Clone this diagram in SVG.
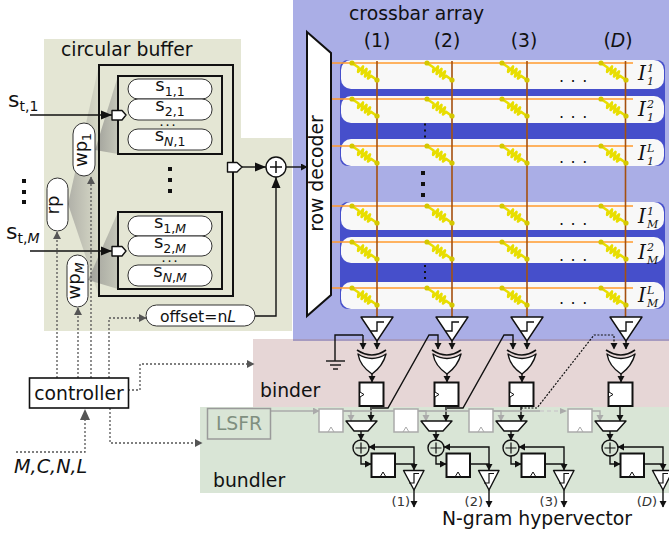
<svg xmlns="http://www.w3.org/2000/svg" xmlns:xlink="http://www.w3.org/1999/xlink" width="669" height="533" viewBox="0 0 669 533">
<style>
text{font-family:"DejaVu Sans",sans-serif;fill:#111}
.lbl{font-size:18.800px}
.s{font-size:18px;text-anchor:middle}
.sub{font-size:12.500px}
.it{font-style:italic}
.wire{fill:none;stroke:#111;stroke-width:1.4}
.arr{marker-end:url(#ah)}
.ctl{fill:none;stroke:#555;stroke-width:1.3;stroke-dasharray:2 2;marker-end:url(#ahg)}
.gw{fill:none;stroke:#aaa;stroke-width:1.3}
.box{fill:none;stroke:#111;stroke-width:2}
.pill{fill:#fff;stroke:#333;stroke-width:1}
.reg{fill:#fff;stroke:#111;stroke-width:2}
.greg{fill:#fff;stroke:#aaa;stroke-width:1.5}
.gate{fill:#fff;stroke:#111;stroke-width:1.4;stroke-linejoin:round}
.or{stroke:#ff9a2e;stroke-width:1.6}
.br{stroke:#a5500f;stroke-width:1.6}
.row{fill:#f8f8f8}
.dots{font-size:16px;letter-spacing:6.500px}
.tiny{font-size:8px;font-weight:bold;letter-spacing:3px}
.cap{font-family:"DejaVu Serif",serif;font-style:italic;font-size:20px}
.cs{font-family:"DejaVu Serif",serif;font-style:italic;font-size:11px}
.hdr{font-size:18.800px;text-anchor:middle}
.out{font-size:13px;text-anchor:end;fill:#333}
</style>
<defs>
<marker id="ah" markerUnits="userSpaceOnUse" markerWidth="8" markerHeight="8" refX="6" refY="3.500" orient="auto"><path d="M0 0L6.500 3.500L0 7Z" fill="#111"/></marker>
<marker id="ahL" markerUnits="userSpaceOnUse" markerWidth="12" markerHeight="10" refX="11" refY="5" orient="auto"><path d="M0 0.500L11 5L0 9.500Z" fill="#111"/></marker>
<marker id="ahg" markerUnits="userSpaceOnUse" markerWidth="9" markerHeight="9" refX="7" refY="4" orient="auto"><path d="M0 0L7.500 4L0 8Z" fill="#555"/></marker>
<marker id="ahG" markerUnits="userSpaceOnUse" markerWidth="12" markerHeight="10" refX="11" refY="5" orient="auto"><path d="M0 0L11 5L0 10Z" fill="#555"/></marker>
<marker id="ahl" markerUnits="userSpaceOnUse" markerWidth="8" markerHeight="8" refX="6" refY="3.500" orient="auto"><path d="M0 0L6.500 3.500L0 7Z" fill="#aaa"/></marker>
<linearGradient id="fan" x1="0" x2="1" y1="0" y2="0"><stop offset="0" stop-color="#a0a09a"/><stop offset="1" stop-color="#c4c6b8"/></linearGradient>
<linearGradient id="fan2" x1="0" x2="1" y1="0" y2="0"><stop offset="0" stop-color="#b0b0a8"/><stop offset="1" stop-color="#d8dac8"/></linearGradient>
<g id="res"><path d="M0 0L6.600 4.500L6.100 8.900L11 3.500L9.600 11L14.500 6L13 13.500L18 8.500L16 15.500L19.100 12.900L25 17" fill="none" stroke="#e8de00" stroke-width="2.600" stroke-linejoin="round"/><circle r="2.600" fill="#d4c800"/><circle cx="25" cy="17" r="2.600" fill="#d4c800"/></g>
<g id="cells"><use href="#res" x="352"/><use href="#res" x="427"/><use href="#res" x="502"/><use href="#res" x="601"/></g>
<g id="comp"><path class="gate" d="M361 317H393L377 341Z"/><path d="M370 331H377V322H384" fill="none" stroke="#111" stroke-width="1.400"/></g>
<g id="xor"><path class="gate" d="M358 354Q372 363 386 354Q383 366 372 374Q360 366 358 354Z"/><path d="M357 350Q372 360 386 350" fill="none" stroke="#111" stroke-width="1.600"/></g>
<g id="ff1"><rect class="reg" x="359.500" y="382.500" width="24" height="23.500"/><path d="M360 392L364 394.500L360 397" fill="#fff" stroke="#111" stroke-width="1"/></g>
<g id="mux"><path class="gate" d="M346 421H377L368 431H354Z"/></g>
<g id="add"><circle cx="361" cy="448" r="8" fill="none" stroke="#111" stroke-width="1.400"/><path d="M355.500 448H366.500M361 442.500V453.500" stroke="#111" stroke-width="1.200"/></g>
<g id="ff2"><rect class="reg" x="371.500" y="453.500" width="23.500" height="23.500"/><path d="M380 477L383 472L386 477" fill="none" stroke="#111" stroke-width="1"/></g>
<g id="mini"><path class="gate" d="M403.500 470.500H424L414 490Z"/><path d="M409 483H414V473.500H419" fill="none" stroke="#111" stroke-width="1.200"/></g>
<g id="gff"><rect class="greg" x="319" y="409" width="24" height="23"/><path d="M328 432L331 427L334 432" fill="none" stroke="#aaa" stroke-width="1"/></g>
<g id="colwires">
<path class="wire arr" d="M377 341V349"/>
<path class="wire arr" d="M372 374V382"/>
<path class="wire arr" d="M371 406V421"/>
<path class="wire arr" d="M361 431V440"/>
<path class="wire arr" d="M361 456V464H371"/>
<path class="wire arr" d="M395 464H414V470"/>
<path class="wire arr" d="M414 464V447H369"/>
<path class="wire arr" d="M414 490V507"/>
<path class="gw" style="marker-end:url(#ahl)" d="M343 411H351V421"/>
</g>
</defs>

<g id="backgrounds">
<path d="M44 39H241V138H292V331H44Z" fill="#e4e6d4"/>
<rect x="293" y="0" width="376" height="340" fill="#aaaee6"/>
<rect x="253" y="339" width="416" height="68" fill="#e6d6d6"/>
<path d="M293 339H669V341H293Z" fill="#a69ac0"/>
<rect x="200" y="407" width="469" height="86" fill="#d9e5d6"/>
<rect x="340" y="60" width="325" height="106" rx="8" fill="#464fcb"/>
<rect x="340" y="202" width="325" height="107" rx="8" fill="#464fcb"/>
<path d="M68 204L99 65V296Z" fill="url(#fan2)"/>
<path d="M95 150L118 76V154Z" fill="url(#fan)"/>
<path d="M88 280L118 212V289Z" fill="url(#fan)"/>
</g>

<g id="row-1-1"><rect class="row" x="341" y="60" width="323" height="29" rx="10"/></g>
<g id="row-2-1"><rect class="row" x="341" y="96" width="323" height="27" rx="10"/></g>
<g id="row-L-1"><rect class="row" x="341" y="139" width="323" height="27" rx="10"/></g>
<g id="row-1-M"><rect class="row" x="341" y="202" width="323" height="28" rx="10"/></g>
<g id="row-2-M"><rect class="row" x="341" y="237" width="323" height="26" rx="10"/></g>
<g id="row-L-M"><rect class="row" x="341" y="282" width="323" height="27" rx="10"/></g>

<g id="connectors">
<path class="or" d="M332 63H633M332 99H633M332 146H633M332 206H633M332 242H633M332 288H633"/>
<path class="br" d="M377 61V317M452 61V317M527 61V317M625.500 61V317"/>
<path class="wire" style="marker-end:url(#ahL)" d="M30 115H112"/>
<path class="wire" style="marker-end:url(#ahL)" d="M30 251H112"/>
<path class="wire" style="marker-end:url(#ahL)" d="M242 167H266"/>
<path class="wire" style="marker-end:url(#ahL)" d="M255 316H276V177"/>
<path class="wire arr" d="M286 167H307"/>
<path class="ctl" d="M57 378V232"/>
<path class="ctl" d="M78 378V308"/>
<path class="ctl" d="M91 378V177"/>
<path class="ctl" d="M109 378V318H146"/>
<path class="ctl" d="M128 390H140V364H254"/>
<path class="ctl" d="M110 408V443H202"/>
<path style="fill:none;stroke:#555;stroke-width:1.300;stroke-dasharray:2 2;marker-end:url(#ahG)" d="M16 452H85V409"/>
<path class="wire arr" d="M363 335V349" />
<path class="wire" d="M363 335H335V361"/>
<path d="M326 361H345M330 365H341M333 369H338" stroke="#222" stroke-width="1.300"/>
<use href="#colwires"/>
<use href="#colwires" x="75"/>
<use href="#colwires" x="150"/>
<use href="#colwires" x="249"/>
<path class="wire arr" d="M372 408H388L429 335H438V349"/>
<path class="wire arr" d="M447 408H463L504 335H513V349"/>
<path style="fill:none;stroke:#111;stroke-width:1.200;stroke-dasharray:2 1.500;marker-end:url(#ah)" d="M521 408H537L594 335H614V349"/>
<path class="gw" style="marker-end:url(#ahl)" d="M270 411H319"/>
<path class="gw" d="M343 411H394M418 411H469M493 411H540"/>
<path d="M540 411H566" fill="none" stroke="#ccc" stroke-width="1.300" stroke-dasharray="4 3"/>
<path d="M560 408L567 411L560 414Z" fill="#aaa"/>
</g>

<g id="circular-buffer">
<text class="lbl" x="61" y="56">circular buffer</text>
<rect class="box" x="99" y="65" width="134" height="231"/>
<rect class="box" x="118" y="76" width="104" height="78"/>
<rect class="box" x="118" y="212" width="104" height="77"/>
<rect x="168" y="167" width="4" height="4" fill="#111"/><rect x="168" y="178" width="4" height="4" fill="#111"/><rect x="168" y="189" width="4" height="4" fill="#111"/>
</g>
<g id="s11"><rect class="pill" x="128" y="79" width="84" height="20" rx="10"/><text class="s" x="170" y="91">s<tspan class="sub" dy="5">1,1</tspan></text></g>
<g id="s21"><rect class="pill" x="128" y="99" width="84" height="21" rx="10"/><text class="s" x="170" y="111">s<tspan class="sub" dy="5">2,1</tspan></text></g>
<text id="dots1" class="tiny" x="160" y="126">...</text>
<g id="sN1"><rect class="pill" x="128" y="129" width="84" height="21" rx="10"/><text class="s" x="170" y="141">s<tspan class="sub it" dy="5">N</tspan><tspan class="sub">,1</tspan></text></g>
<g id="s1M"><rect class="pill" x="128" y="216" width="84" height="20" rx="10"/><text class="s" x="170" y="228">s<tspan class="sub" dy="5">1,</tspan><tspan class="sub it">M</tspan></text></g>
<g id="s2M"><rect class="pill" x="128" y="236" width="84" height="20" rx="10"/><text class="s" x="170" y="248">s<tspan class="sub" dy="5">2,</tspan><tspan class="sub it">M</tspan></text></g>
<text id="dotsM" class="tiny" x="162" y="262">...</text>
<g id="sNM"><rect class="pill" x="128" y="265" width="84" height="21" rx="10"/><text class="s" x="170" y="277">s<tspan class="sub it" dy="5">N</tspan><tspan class="sub">,</tspan><tspan class="sub it">M</tspan></text></g>
<path id="port1" class="gate" d="M112 110.500H122L126 115L122 120H112Z"/>
<path id="portM" class="gate" d="M112 246.500H122L126 251L122 256H112Z"/>
<path id="portOut" class="gate" d="M227.500 162.500H237L242 167L237 172H227.500Z"/>
<g id="wp1"><rect class="pill" x="73" y="123" width="22" height="53" rx="11"/><text class="s" transform="translate(87,150) rotate(-90)">wp<tspan class="sub" dy="4">1</tspan></text></g>
<g id="rp"><rect class="pill" x="47" y="178" width="21" height="53" rx="10.500"/><text class="s" transform="translate(59,205) rotate(-90)">rp</text></g>
<g id="wpM"><rect class="pill" x="67" y="255" width="21" height="52" rx="10.500"/><text class="s" transform="translate(80,281) rotate(-90)">wp<tspan class="sub it" dy="4">M</tspan></text></g>
<g id="offset"><rect class="pill" x="146" y="305" width="109" height="21" rx="10.500"/><text x="198" y="322" style="font-size:15.700px;text-anchor:middle">offset=n<tspan class="it">L</tspan></text></g>
<g id="adder-main"><circle cx="276" cy="167" r="10" fill="#fff" stroke="#111" stroke-width="1.400"/><path d="M270 167H282M276 161V173" stroke="#111" stroke-width="1.500"/></g>
<g id="input-labels">
<text x="8" y="107" style="font-size:22px">s<tspan class="sub" style="font-size:14px" dy="4">t,1</tspan></text>
<text x="6" y="239" style="font-size:22px">s<tspan class="sub" style="font-size:14px" dy="4">t,</tspan><tspan class="it" style="font-size:14px">M</tspan></text>
<rect x="22" y="179" width="4" height="4" fill="#111"/><rect x="22" y="190" width="4" height="4" fill="#111"/><rect x="22" y="200" width="4" height="4" fill="#111"/>
</g>

<g id="crossbar">
<text class="lbl" x="349" y="20">crossbar array</text>
<text class="hdr" x="377" y="47">(1)</text>
<text class="hdr" x="447" y="47">(2)</text>
<text class="hdr" x="524" y="47">(3)</text>
<text class="hdr" x="618" y="47">(<tspan class="it">D</tspan>)</text>
<use href="#cells" y="63"/><use href="#cells" y="99"/><use href="#cells" y="146"/><use href="#cells" y="206"/><use href="#cells" y="242"/><use href="#cells" y="288"/>
<text class="dots" x="559" y="82">...</text><text class="dots" x="559" y="118">...</text><text class="dots" x="559" y="163">...</text><text class="dots" x="559" y="225">...</text><text class="dots" x="559" y="261">...</text><text class="dots" x="559" y="304">...</text>
<rect x="424" y="123.500" width="2" height="2" fill="#111"/><rect x="424" y="129.500" width="2" height="2" fill="#111"/><rect x="424" y="135.500" width="2" height="2" fill="#111"/>
<rect x="421" y="171" width="4" height="4" fill="#111"/><rect x="421" y="182" width="4" height="4" fill="#111"/><rect x="421" y="193" width="4" height="4" fill="#111"/>
<rect x="424" y="265" width="2" height="2" fill="#111"/><rect x="424" y="271" width="2" height="2" fill="#111"/><rect x="424" y="277" width="2" height="2" fill="#111"/>
<text class="cap" x="638" y="80">I</text><text class="cs" x="647" y="72">1</text><text class="cs" x="647" y="85">1</text>
<text class="cap" x="638" y="116">I</text><text class="cs" x="647" y="108">2</text><text class="cs" x="647" y="121">1</text>
<text class="cap" x="638" y="160">I</text><text class="cs" x="647" y="152">L</text><text class="cs" x="647" y="165">1</text>
<text class="cap" x="638" y="223">I</text><text class="cs" x="647" y="215">1</text><text class="cs" x="647" y="228">M</text>
<text class="cap" x="638" y="259">I</text><text class="cs" x="647" y="251">2</text><text class="cs" x="647" y="264">M</text>
<text class="cap" x="638" y="302">I</text><text class="cs" x="647" y="294">L</text><text class="cs" x="647" y="307">M</text>
</g>
<g id="row-decoder"><path d="M307 32L331 53V295L307 316Z" fill="#fff" stroke="#111" stroke-width="2"/><text class="lbl" transform="translate(323,173.500) rotate(-90)" text-anchor="middle">row decoder</text></g>

<g id="col-1"><use href="#comp"/><use href="#xor"/><use href="#ff1"/><use href="#gff"/><use href="#mux"/><use href="#add"/><use href="#ff2"/><use href="#mini"/></g>
<g id="col-2" transform="translate(75 0)"><use href="#comp"/><use href="#xor"/><use href="#ff1"/><use href="#gff"/><use href="#mux"/><use href="#add"/><use href="#ff2"/><use href="#mini"/></g>
<g id="col-3" transform="translate(150 0)"><use href="#comp"/><use href="#xor"/><use href="#ff1"/><use href="#gff"/><use href="#mux"/><use href="#add"/><use href="#ff2"/><use href="#mini"/></g>
<g id="col-4" transform="translate(249 0)"><use href="#comp"/><use href="#xor"/><use href="#ff1"/><use href="#gff"/><use href="#mux"/><use href="#add"/><use href="#ff2"/><use href="#mini"/></g>

<g id="lsfr"><rect x="207.500" y="408.500" width="63" height="30.500" fill="#d9e5d6" stroke="#9a9a9a" stroke-width="1.500"/><text x="239" y="430" style="font-size:18.800px;text-anchor:middle;fill:#7f8f80">LSFR</text></g>
<g id="controller"><rect x="29.500" y="378" width="99" height="30" fill="#fff" stroke="#111" stroke-width="1.600"/><text x="79" y="400" style="font-size:18.800px;text-anchor:middle">controller</text></g>
<text id="params" class="it" x="14" y="473" style="font-size:19.200px">M,C,N,L</text>
<text id="binder" class="lbl" x="260" y="397">binder</text>
<text id="bundler" class="lbl" x="213" y="487">bundler</text>
<text class="out" x="410" y="506">(1)</text>
<text class="out" x="483" y="506">(2)</text>
<text class="out" x="558" y="506">(3)</text>
<text class="out" x="657" y="506">(<tspan class="it">D</tspan>)</text>
<text id="ngram" x="442" y="525" style="font-size:18.800px">N-gram hypervector</text>
</svg>
